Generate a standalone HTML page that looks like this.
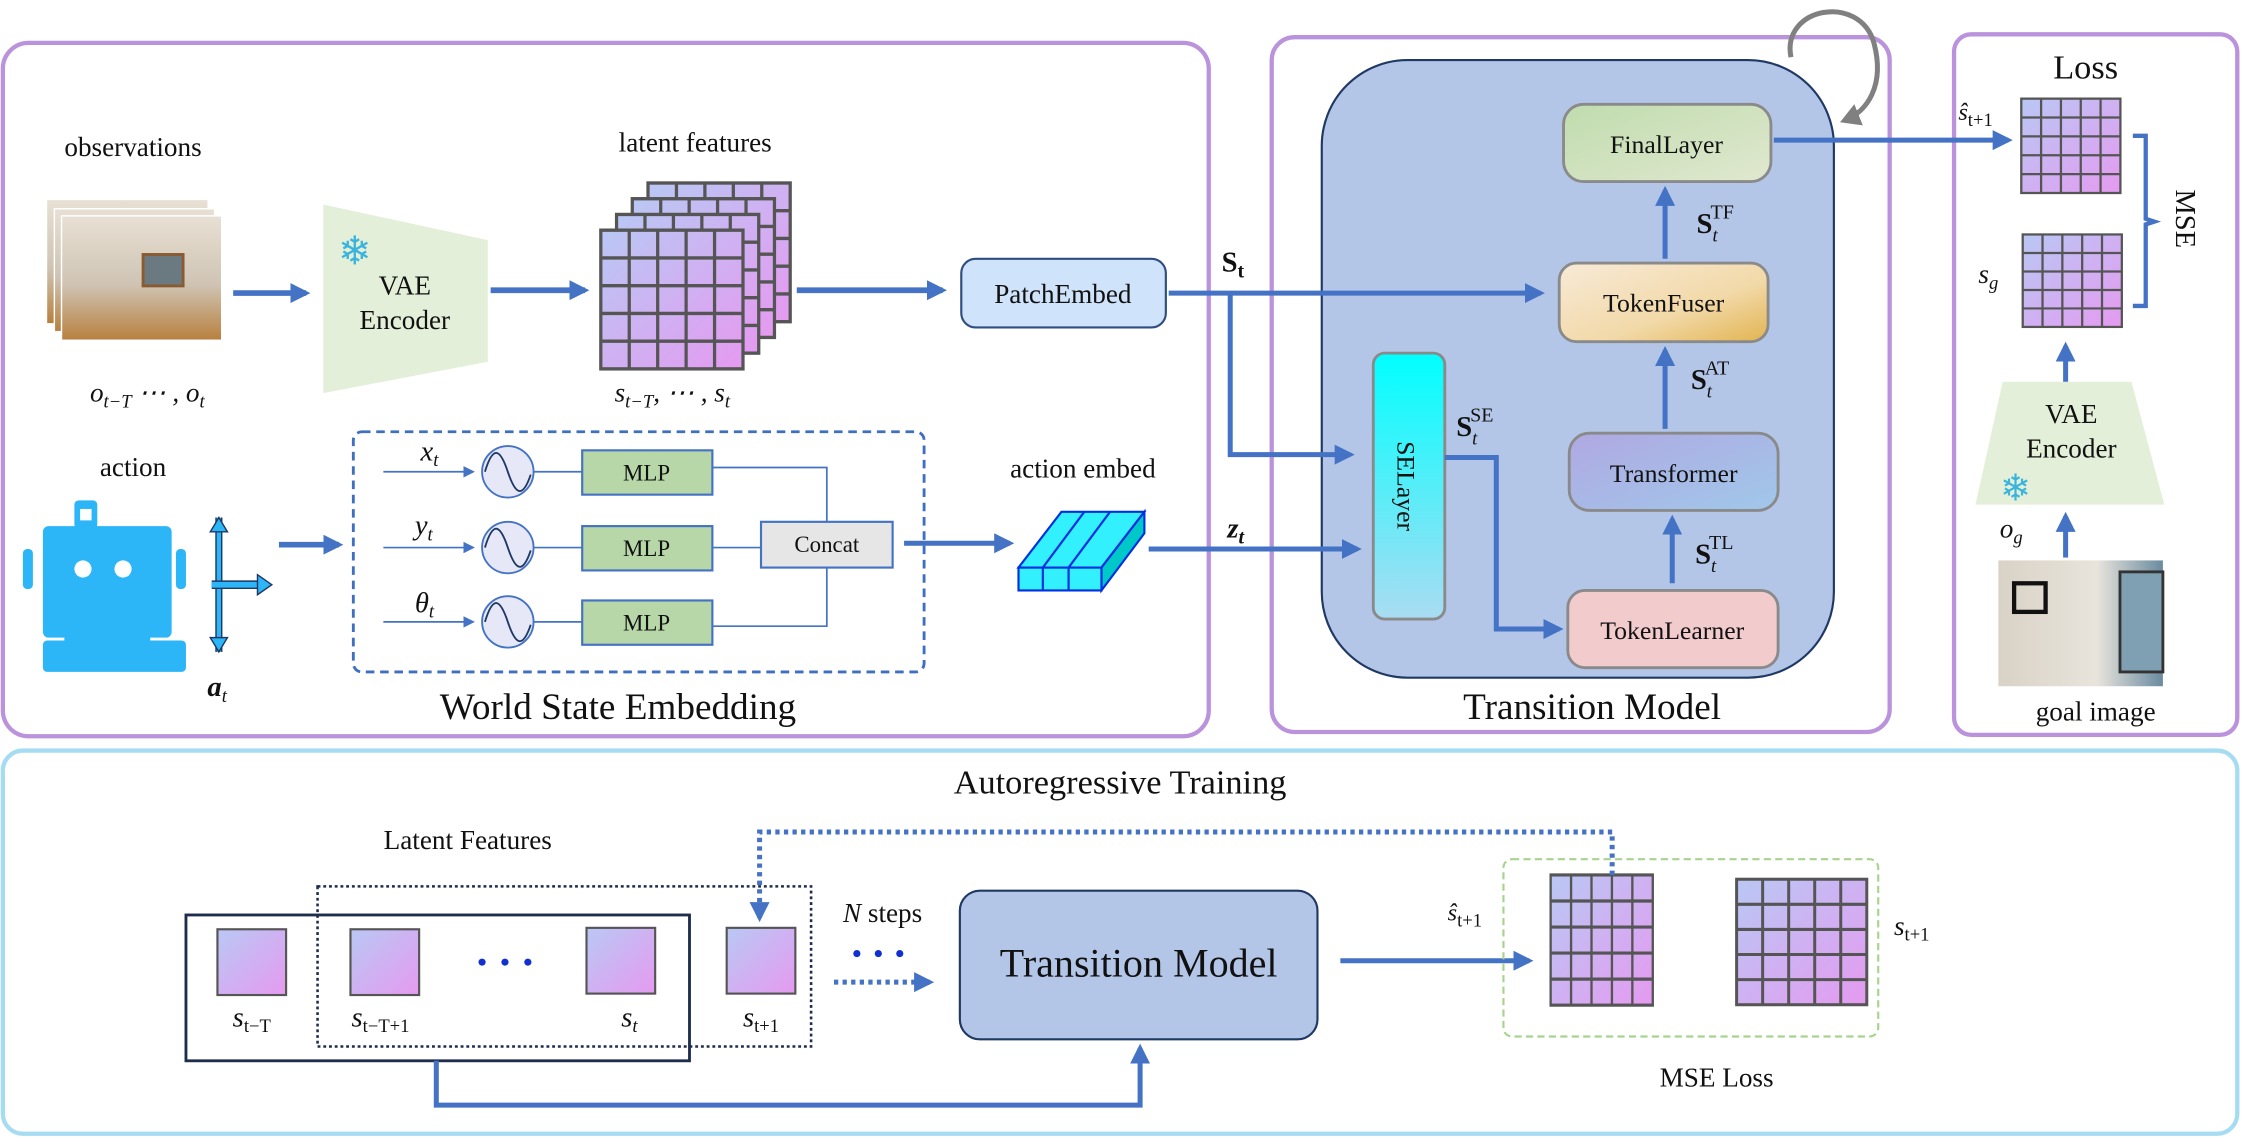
<!DOCTYPE html>
<html><head><meta charset="utf-8"><style>html,body{margin:0;padding:0;background:#fff}svg{display:block;font-family:"Liberation Serif","Times New Roman","DejaVu Serif",serif}svg text,svg tspan{font-family:"Liberation Serif","Times New Roman","DejaVu Serif",serif !important;fill:#111}</style></head>
<body>
<svg width="2243" height="1138" viewBox="0 0 1568 796" preserveAspectRatio="none" xmlns="http://www.w3.org/2000/svg" font-family="'Liberation Serif', 'Times New Roman', serif">
<defs>
<linearGradient id="cell" x1="0" y1="0" x2="1" y2="1"><stop offset="0" stop-color="#b9c8f4"/><stop offset="1" stop-color="#e59af0"/></linearGradient>
<linearGradient id="se" x1="0" y1="0" x2="0" y2="1"><stop offset="0" stop-color="#00ffff"/><stop offset="1" stop-color="#aadcf2"/></linearGradient>
<linearGradient id="fl" x1="0" y1="0" x2="1" y2="1"><stop offset="0" stop-color="#c0dcae"/><stop offset="1" stop-color="#e0e8cf"/></linearGradient>
<linearGradient id="tf" x1="0" y1="0" x2="1" y2="1"><stop offset="0" stop-color="#f8ead8"/><stop offset="0.6" stop-color="#f2d9a8"/><stop offset="1" stop-color="#e2b451"/></linearGradient>
<linearGradient id="tr" x1="0" y1="0" x2="1" y2="1"><stop offset="0" stop-color="#b0a8e2"/><stop offset="1" stop-color="#a0c8ea"/></linearGradient>
<linearGradient id="img" x1="0" y1="0" x2="0" y2="1"><stop offset="0" stop-color="#e8e0d4"/><stop offset="0.55" stop-color="#cfc4b4"/><stop offset="1" stop-color="#b8803e"/></linearGradient>
<linearGradient id="gimg" x1="0" y1="0" x2="1" y2="0"><stop offset="0" stop-color="#d9d2c6"/><stop offset="0.6" stop-color="#e8e4dc"/><stop offset="1" stop-color="#6a8ba0"/></linearGradient>
<marker id="ar" markerWidth="8" markerHeight="8" refX="6" refY="4" orient="auto" markerUnits="userSpaceOnUse"><path d="M0,0 L8,4 L0,8 z" fill="#4472c4"/></marker>
<marker id="ar2" markerWidth="14" markerHeight="14" refX="11" refY="7" orient="auto" markerUnits="userSpaceOnUse"><path d="M0,0 L14,7 L0,14 z" fill="#4472c4"/></marker>
<marker id="arg" markerWidth="16" markerHeight="16" refX="10" refY="8" orient="auto" markerUnits="userSpaceOnUse"><path d="M0,0 L14,8 L0,16 z" fill="#808080"/></marker>
<g id="g5">
<rect x="0" y="0" width="70" height="66" fill="url(#cell)"/>
<path d="M14,0V66M28,0V66M42,0V66M56,0V66M0,13.2H70M0,26.4H70M0,39.6H70M0,52.8H70" stroke="#555" stroke-width="1.6"/>
<rect x="0" y="0" width="70" height="66" fill="none" stroke="#555" stroke-width="1.6"/>
</g>
</defs>

<rect x="2" y="30" width="843" height="485" rx="18" fill="none" stroke="#bb92dc" stroke-width="3"/>
<rect x="889" y="26" width="432" height="486" rx="16" fill="none" stroke="#bb92dc" stroke-width="3"/>
<rect x="1366" y="24" width="198" height="490" rx="12" fill="none" stroke="#bb92dc" stroke-width="3"/>
<rect x="2" y="525" width="1562" height="268" rx="14" fill="none" stroke="#a6dcf2" stroke-width="3"/>

<text x="93" y="109" font-size="19" text-anchor="middle">observations</text>
<rect x="33" y="140" width="112" height="86" fill="url(#img)"/>
<rect x="38" y="146" width="112" height="86" fill="url(#img)" stroke="#fff"/>
<rect x="43" y="151" width="112" height="87" fill="url(#img)" stroke="#fff"/>
<rect x="100" y="178" width="28" height="22" fill="#6b7a80" stroke="#8a5a30" stroke-width="2"/>
<text x="103" y="281" font-size="19" font-style="italic" text-anchor="middle">o<tspan font-size="13" dy="4">t−T</tspan><tspan dy="-4"> ⋯ , o</tspan><tspan font-size="13" dy="4">t</tspan></text>
<line x1="163" y1="205" x2="214" y2="205" stroke="#4472c4" stroke-width="4" marker-end="url(#ar2)"/>
<polygon points="226,143 341,168 341,253 226,275" fill="#e3efd9"/>
<text x="248" y="185" font-size="28" style="fill:#3ab4dc" text-anchor="middle">❄</text>
<text x="283" y="206" font-size="19" text-anchor="middle">VAE</text>
<text x="283" y="230" font-size="19" text-anchor="middle">Encoder</text>
<line x1="343" y1="203" x2="409" y2="203" stroke="#4472c4" stroke-width="4" marker-end="url(#ar2)"/>
<text x="486" y="106" font-size="19" text-anchor="middle">latent features</text>
<use href="#g5" transform="translate(453,128) scale(1.42,1.47)"/>
<use href="#g5" transform="translate(442,139) scale(1.42,1.47)"/>
<use href="#g5" transform="translate(431,150) scale(1.42,1.47)"/>
<use href="#g5" transform="translate(420,161) scale(1.42,1.47)"/>
<text x="470" y="281" font-size="19" font-style="italic" text-anchor="middle">s<tspan font-size="13" dy="4">t−T</tspan><tspan dy="-4">, ⋯ , s</tspan><tspan font-size="13" dy="4">t</tspan></text>
<line x1="557" y1="203" x2="659" y2="203" stroke="#4472c4" stroke-width="4" marker-end="url(#ar2)"/>
<rect x="672" y="181" width="143" height="48" rx="10" fill="#cfe3fb" stroke="#2f4d80" stroke-width="1.5"/>
<text x="743" y="212" font-size="19" text-anchor="middle">PatchEmbed</text>
<text x="854" y="190" font-size="20" font-weight="bold">S<tspan font-size="14" dy="4">t</tspan></text>

<text x="93" y="333" font-size="19" text-anchor="middle">action</text>
<g fill="#2db6f7">
<rect x="52" y="350" width="16" height="20" rx="3"/>
<rect x="16" y="384" width="7" height="28" rx="3"/><rect x="123" y="384" width="7" height="28" rx="3"/>
<rect x="30" y="368" width="90" height="78" rx="4"/>
<rect x="30" y="448" width="100" height="22" rx="3"/>
<rect x="45" y="440" width="60" height="12"/>
</g>
<rect x="56" y="356" width="8" height="8" fill="#fff"/>
<circle cx="58" cy="398" r="6" fill="#fff"/><circle cx="86" cy="398" r="6" fill="#fff"/>
<path d="M153,362 L153,456" stroke="#1f3864" stroke-width="5"/><path d="M153,362 L153,456" stroke="#2db6f7" stroke-width="3"/>
<path d="M147,372 L153,362 L159,372Z M147,446 L153,456 L159,446Z" fill="#2db6f7" stroke="#1f3864"/>
<path d="M148,409 L182,409" stroke="#1f3864" stroke-width="6"/><path d="M148,409 L182,409" stroke="#2db6f7" stroke-width="4"/>
<path d="M180,402 L190,409 L180,416Z" fill="#2db6f7" stroke="#1f3864"/>
<text x="145" y="487" font-size="20" font-weight="bold" font-style="italic">a<tspan font-size="13" font-weight="normal" dy="4">t</tspan></text>
<line x1="195" y1="381" x2="237" y2="381" stroke="#4472c4" stroke-width="4" marker-end="url(#ar2)"/>

<rect x="247" y="302" width="399" height="168" rx="6" fill="none" stroke="#3f6fc0" stroke-width="2" stroke-dasharray="6,4"/>
<g font-style="italic" font-size="20">
<text x="294" y="322">x<tspan font-size="13" dy="4">t</tspan></text>
<text x="290" y="374">y<tspan font-size="13" dy="4">t</tspan></text>
<text x="290" y="428">θ<tspan font-size="13" dy="4">t</tspan></text>
</g>
<g stroke="#4472c4" stroke-width="1.2" fill="none">
<line x1="268" y1="330" x2="330" y2="330" marker-end="url(#ar)"/>
<line x1="268" y1="383" x2="330" y2="383" marker-end="url(#ar)"/>
<line x1="268" y1="435" x2="330" y2="435" marker-end="url(#ar)"/>
<line x1="373" y1="330" x2="407" y2="330"/><line x1="373" y1="383" x2="407" y2="383"/><line x1="373" y1="435" x2="407" y2="435"/>
<polyline points="498,327 578,327 578,365"/>
<line x1="498" y1="383" x2="532" y2="383"/>
<polyline points="498,438 578,438 578,397"/>
</g>
<g fill="#e6e8f8" stroke="#4472c4" stroke-width="1.3">
<circle cx="355" cy="330" r="18"/><circle cx="355" cy="383" r="18"/><circle cx="355" cy="435" r="18"/>
</g>
<g fill="none" stroke="#1f3864" stroke-width="1.3">
<path d="M339,330 C345,310 350,315 355,330 C360,345 365,350 371,332"/>
<path d="M339,383 C345,363 350,368 355,383 C360,398 365,403 371,385"/>
<path d="M339,435 C345,415 350,420 355,435 C360,450 365,455 371,437"/>
</g>
<g fill="#b7d7a8" stroke="#4472c4" stroke-width="1.5">
<rect x="407" y="315" width="91" height="31"/><rect x="407" y="368" width="91" height="31"/><rect x="407" y="420" width="91" height="31"/>
</g>
<g font-size="16" text-anchor="middle"><text x="452" y="336">MLP</text><text x="452" y="389">MLP</text><text x="452" y="441">MLP</text></g>
<rect x="532" y="365" width="92" height="32" fill="#e6e6e6" stroke="#4472c4" stroke-width="1.5"/>
<text x="578" y="386" font-size="16" text-anchor="middle">Concat</text>
<text x="432" y="503" font-size="26" text-anchor="middle">World State Embedding</text>
<line x1="632" y1="380" x2="706" y2="380" stroke="#4472c4" stroke-width="3.5" marker-end="url(#ar2)"/>
<text x="757" y="334" font-size="19" text-anchor="middle">action embed</text>
<polygon points="712,397 742,358 800,358 770,397" fill="#33f0ff" stroke="#0030e0" stroke-width="1.5"/>
<polygon points="770,397 800,358 800,373 770,413" fill="#00c8c8" stroke="#0030e0" stroke-width="1.5"/>
<rect x="712" y="397" width="58" height="16" fill="#33f0ff" stroke="#0030e0" stroke-width="1.5"/>
<path d="M729,397V413M747,397V413M729,397L758,358M747,397L776,358" stroke="#0030e0" stroke-width="1.5" fill="none"/>
<text x="858" y="376" font-size="20" font-weight="bold" font-style="italic">z<tspan font-size="14" dy="4">t</tspan></text>

<rect x="924" y="42" width="358" height="432" rx="60" fill="#b4c6e7" stroke="#1f3864" stroke-width="1.5"/>
<polyline points="817,205 1077,205" fill="none" stroke="#4472c4" stroke-width="3.5" marker-end="url(#ar2)"/>
<polyline points="860,205 860,318 944,318" fill="none" stroke="#4472c4" stroke-width="3.5" marker-end="url(#ar2)"/>
<line x1="803" y1="384" x2="949" y2="384" stroke="#4472c4" stroke-width="3.5" marker-end="url(#ar2)"/>
<rect x="960" y="247" width="50" height="186" rx="8" fill="url(#se)" stroke="#8a8a8a" stroke-width="2"/>
<text transform="translate(977,340) rotate(90)" font-size="18" text-anchor="middle">SELayer</text>
<rect x="1093" y="73" width="145" height="54" rx="14" fill="url(#fl)" stroke="#8a8a8a" stroke-width="2"/>
<text x="1165" y="107" font-size="18" text-anchor="middle">FinalLayer</text>
<rect x="1090" y="184" width="146" height="55" rx="12" fill="url(#tf)" stroke="#8a8a8a" stroke-width="2"/>
<text x="1163" y="218" font-size="18" text-anchor="middle">TokenFuser</text>
<rect x="1097" y="303" width="146" height="54" rx="14" fill="url(#tr)" stroke="#8a8a8a" stroke-width="2"/>
<text x="1170" y="337" font-size="18" text-anchor="middle">Transformer</text>
<rect x="1096" y="413" width="147" height="54" rx="12" fill="#f2cbcd" stroke="#8a8a8a" stroke-width="2"/>
<text x="1169" y="447" font-size="18" text-anchor="middle">TokenLearner</text>
<g stroke="#4472c4" stroke-width="3.5" fill="none">
<polyline points="1010,320 1046,320 1046,440 1090,440" marker-end="url(#ar2)"/>
<line x1="1169" y1="408" x2="1169" y2="363" marker-end="url(#ar2)"/>
<line x1="1164" y1="300" x2="1164" y2="245" marker-end="url(#ar2)"/>
<line x1="1164" y1="181" x2="1164" y2="133" marker-end="url(#ar2)"/>
<line x1="1240" y1="98" x2="1404" y2="98" marker-end="url(#ar2)"/>
</g>
<g font-size="20" font-weight="bold">
<text x="1186" y="163">S<tspan font-size="13" font-style="italic" font-weight="normal" dy="6">t</tspan><tspan font-size="14" font-weight="normal" dx="-5" dy="-16">TF</tspan></text>
<text x="1182" y="272">S<tspan font-size="13" font-style="italic" font-weight="normal" dy="6">t</tspan><tspan font-size="14" font-weight="normal" dx="-5" dy="-16">AT</tspan></text>
<text x="1018" y="305">S<tspan font-size="13" font-style="italic" font-weight="normal" dy="6">t</tspan><tspan font-size="14" font-weight="normal" dx="-5" dy="-16">SE</tspan></text>
<text x="1185" y="394">S<tspan font-size="13" font-style="italic" font-weight="normal" dy="6">t</tspan><tspan font-size="14" font-weight="normal" dx="-5" dy="-16">TL</tspan></text>
</g>
<path d="M1252,40 C1245,5 1300,-5 1310,30 C1318,60 1305,78 1290,84" fill="none" stroke="#808080" stroke-width="3.5" marker-end="url(#arg)"/>
<text x="1113" y="503" font-size="26" text-anchor="middle">Transition Model</text>

<text x="1458" y="55" font-size="24" text-anchor="middle">Loss</text>
<use href="#g5" transform="translate(1413,69) scale(0.99,1)"/>
<use href="#g5" transform="translate(1414,164) scale(0.99,0.98)"/>
<text x="1369" y="84" font-size="17" font-style="italic">ŝ<tspan font-size="13" font-style="normal" dy="4">t+1</tspan></text>
<text x="1383" y="198" font-size="19" font-style="italic">s<tspan font-size="13" dy="4">g</tspan></text>
<path d="M1491,95 L1500,95 L1500,153 L1506,155 L1500,157 L1500,214 L1491,214" fill="none" stroke="#4472c4" stroke-width="3"/>
<text transform="translate(1521,153) rotate(90)" font-size="20" text-anchor="middle">MSE</text>
<line x1="1444" y1="268" x2="1444" y2="242" stroke="#4472c4" stroke-width="3.5" marker-end="url(#ar2)"/>
<polygon points="1400,267 1490,267 1513,353 1381,353" fill="#e3efd9"/>
<text x="1448" y="296" font-size="19" text-anchor="middle">VAE</text>
<text x="1448" y="320" font-size="19" text-anchor="middle">Encoder</text>
<text x="1409" y="350" font-size="26" style="fill:#3ab4dc" text-anchor="middle">❄</text>
<text x="1398" y="376" font-size="19" font-style="italic">o<tspan font-size="13" dy="4">g</tspan></text>
<line x1="1444" y1="390" x2="1444" y2="361" stroke="#4472c4" stroke-width="3.5" marker-end="url(#ar2)"/>
<rect x="1397" y="392" width="115" height="88" fill="url(#gimg)"/>
<rect x="1408" y="408" width="22" height="20" fill="none" stroke="#111" stroke-width="3"/>
<rect x="1482" y="400" width="30" height="70" fill="#7f9fb2" stroke="#333" stroke-width="2"/>
<text x="1465" y="504" font-size="19" text-anchor="middle">goal image</text>

<text x="783" y="555" font-size="24" text-anchor="middle">Autoregressive Training</text>
<text x="327" y="594" font-size="19" text-anchor="middle">Latent Features</text>
<rect x="130" y="640" width="352" height="102" fill="none" stroke="#1f2d4d" stroke-width="2"/>
<rect x="222" y="620" width="345" height="112" fill="none" stroke="#1f2d4d" stroke-width="1.8" stroke-dasharray="2,2"/>
<g fill="url(#cell)" stroke="#555" stroke-width="1.5">
<rect x="152" y="650" width="48" height="46"/><rect x="245" y="650" width="48" height="46"/>
<rect x="410" y="649" width="48" height="46"/><rect x="508" y="649" width="48" height="46"/>
</g>
<g fill="#1030d0"><circle cx="337" cy="673" r="2.5"/><circle cx="353" cy="673" r="2.5"/><circle cx="369" cy="673" r="2.5"/></g>
<g font-size="20" font-style="italic" text-anchor="middle">
<text x="176" y="718">s<tspan font-size="13" font-style="normal" dy="4">t−T</tspan></text>
<text x="266" y="718">s<tspan font-size="13" font-style="normal" dy="4">t−T+1</tspan></text>
<text x="440" y="718">s<tspan font-size="13" dy="4">t</tspan></text>
<text x="532" y="718">s<tspan font-size="13" font-style="normal" dy="4">t+1</tspan></text>
</g>
<text x="617" y="645" font-size="19" text-anchor="middle"><tspan font-style="italic">N</tspan> steps</text>
<g fill="#1030d0"><circle cx="599" cy="667" r="2.5"/><circle cx="614" cy="667" r="2.5"/><circle cx="629" cy="667" r="2.5"/></g>
<line x1="583" y1="687" x2="650" y2="687" stroke="#4472c4" stroke-width="3.5" stroke-dasharray="3,3" marker-end="url(#ar2)"/>
<rect x="671" y="623" width="250" height="104" rx="14" fill="#b4c6e7" stroke="#1f3864" stroke-width="1.5"/>
<text x="796" y="683" font-size="28" text-anchor="middle">Transition Model</text>
<line x1="937" y1="672" x2="1069" y2="672" stroke="#4472c4" stroke-width="3.5" marker-end="url(#ar2)"/>
<text x="1012" y="644" font-size="17" font-style="italic">ŝ<tspan font-size="13" font-style="normal" dy="4">t+1</tspan></text>
<rect x="1051" y="601" width="262" height="124" rx="6" fill="none" stroke="#a8d38d" stroke-width="1.5" stroke-dasharray="5,3"/>
<use href="#g5" transform="translate(1084,612) scale(1.02,1.38)"/>
<use href="#g5" transform="translate(1214,615) scale(1.3,1.33)"/>
<text x="1324" y="654" font-size="19" font-style="italic">s<tspan font-size="13" font-style="normal" dy="4">t+1</tspan></text>
<text x="1200" y="760" font-size="19" text-anchor="middle">MSE Loss</text>
<polyline points="1127,612 1127,582 531,582 531,642" fill="none" stroke="#4472c4" stroke-width="3.5" stroke-dasharray="3,3" marker-end="url(#ar2)"/>
<polyline points="305,742 305,773 797,773 797,733" fill="none" stroke="#4472c4" stroke-width="3.5" marker-end="url(#ar2)"/>
</svg>
</body></html>
